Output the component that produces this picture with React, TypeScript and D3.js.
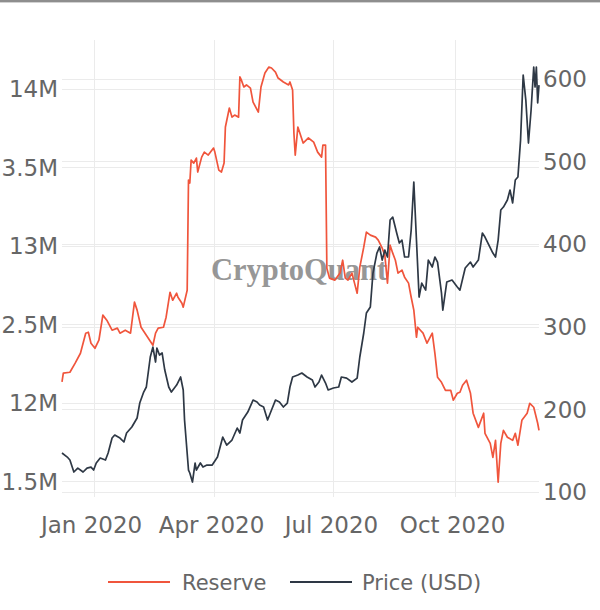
import React from "react";
import * as d3 from "d3";

// ---------- data ----------
const reserveDates = [
  "2019-12-08","2019-12-09","2019-12-14","2019-12-18","2019-12-22","2019-12-26","2019-12-28","2019-12-30","2020-01-02","2020-01-05",
  "2020-01-08","2020-01-11","2020-01-15","2020-01-19","2020-01-21","2020-01-25","2020-01-29","2020-02-01","2020-02-03","2020-02-06",
  "2020-02-10","2020-02-15","2020-02-17","2020-02-19","2020-02-23","2020-02-25","2020-02-28","2020-03-01","2020-03-04","2020-03-05",
  "2020-03-08","2020-03-09","2020-03-12","2020-03-13","2020-03-14","2020-03-15","2020-03-17","2020-03-19","2020-03-20","2020-03-23",
  "2020-03-25","2020-03-28","2020-04-01","2020-04-02","2020-04-05","2020-04-07","2020-04-09","2020-04-10","2020-04-13","2020-04-15",
  "2020-04-17","2020-04-20","2020-04-21","2020-04-22","2020-04-24","2020-04-26","2020-04-29","2020-05-01","2020-05-05","2020-05-07",
  "2020-05-10","2020-05-13","2020-05-15","2020-05-18","2020-05-20","2020-05-24","2020-05-28","2020-05-29","2020-05-31","2020-06-01",
  "2020-06-02","2020-06-04","2020-06-08","2020-06-12","2020-06-16","2020-06-19","2020-06-22","2020-06-23","2020-06-25","2020-06-26",
  "2020-06-28","2020-07-02","2020-07-06","2020-07-08","2020-07-10","2020-07-12","2020-07-15","2020-07-17","2020-07-19","2020-07-21",
  "2020-07-24","2020-07-26","2020-07-29","2020-08-02","2020-08-04","2020-08-07","2020-08-09","2020-08-11","2020-08-13","2020-08-15",
  "2020-08-17","2020-08-19","2020-08-22","2020-08-24","2020-08-27","2020-08-29","2020-08-31","2020-09-02","2020-09-03","2020-09-05",
  "2020-09-07","2020-09-10","2020-09-14","2020-09-16","2020-09-18","2020-09-21","2020-09-24","2020-09-28","2020-09-30","2020-10-03",
  "2020-10-05","2020-10-07","2020-10-10","2020-10-13","2020-10-15","2020-10-19","2020-10-23","2020-10-24","2020-10-28","2020-10-30",
  "2020-11-01","2020-11-03","2020-11-05","2020-11-07","2020-11-10","2020-11-14","2020-11-16","2020-11-18","2020-11-21","2020-11-25",
  "2020-11-27","2020-11-30","2020-12-03","2020-12-04",
];

// Reserve, in millions
const reserveValues = [
  12.133,12.189,12.195,12.253,12.316,12.444,12.450,12.380,12.348,12.399,
  12.559,12.527,12.463,12.476,12.444,12.463,12.444,12.642,12.591,12.482,
  12.431,12.367,12.444,12.476,12.482,12.546,12.705,12.654,12.699,12.673,
  12.635,12.610,12.718,13.420,13.401,13.547,13.528,13.560,13.471,13.566,
  13.598,13.579,13.624,13.598,13.483,13.471,13.528,13.758,13.879,13.821,
  13.834,13.821,14.077,14.060,14.013,14.026,14.006,13.917,13.853,14.013,
  14.102,14.140,14.134,14.108,14.070,14.045,14.026,14.045,13.994,13.719,
  13.579,13.758,13.656,13.688,13.662,13.598,13.566,13.643,13.643,12.858,
  12.795,12.782,12.827,12.909,12.795,12.782,12.827,12.763,12.699,12.865,
  12.992,13.088,13.069,13.056,13.037,12.986,12.941,12.763,13.005,12.954,
  12.909,12.827,12.846,12.801,12.763,12.673,12.591,12.418,12.482,12.463,
  12.444,12.380,12.444,12.316,12.163,12.131,12.080,12.080,12.017,12.061,
  12.068,12.112,12.144,12.061,11.934,11.844,11.934,11.806,11.742,11.653,
  11.761,11.494,11.742,11.825,11.781,11.761,11.806,11.730,11.889,11.934,
  11.997,11.972,11.870,11.825,
];

const priceDates = [
  "2019-12-08","2019-12-12","2019-12-14","2019-12-17","2019-12-20","2019-12-24","2019-12-27","2019-12-30","2020-01-01","2020-01-03",
  "2020-01-06","2020-01-10","2020-01-12","2020-01-15","2020-01-17","2020-01-21","2020-01-24","2020-01-26","2020-01-30","2020-02-03",
  "2020-02-05","2020-02-08","2020-02-10","2020-02-13","2020-02-15","2020-02-17","2020-02-18","2020-02-20","2020-02-22","2020-02-24",
  "2020-02-27","2020-02-29","2020-03-04","2020-03-07","2020-03-09","2020-03-10","2020-03-13","2020-03-14","2020-03-16","2020-03-18",
  "2020-03-19","2020-03-22","2020-03-24","2020-03-27","2020-03-31","2020-04-04","2020-04-08","2020-04-11","2020-04-15","2020-04-19",
  "2020-04-21","2020-04-23","2020-04-27","2020-05-01","2020-05-04","2020-05-06","2020-05-09","2020-05-12","2020-05-15","2020-05-18",
  "2020-05-21","2020-05-24","2020-05-27","2020-05-29","2020-05-31","2020-06-04","2020-06-07","2020-06-11","2020-06-15","2020-06-17",
  "2020-06-20","2020-06-22","2020-06-25","2020-06-27","2020-07-01","2020-07-05","2020-07-07","2020-07-11","2020-07-15","2020-07-19",
  "2020-07-21","2020-07-24","2020-07-26","2020-07-29","2020-07-31","2020-08-03","2020-08-05","2020-08-07","2020-08-09","2020-08-11",
  "2020-08-13","2020-08-15","2020-08-18","2020-08-20","2020-08-22","2020-08-24","2020-08-27","2020-08-29","2020-08-31","2020-09-02",
  "2020-09-04","2020-09-06","2020-09-09","2020-09-11","2020-09-14","2020-09-16","2020-09-18","2020-09-21","2020-09-22","2020-09-25",
  "2020-09-29","2020-10-03","2020-10-05","2020-10-09","2020-10-13","2020-10-15","2020-10-19","2020-10-22","2020-10-24","2020-10-27",
  "2020-10-30","2020-11-01","2020-11-03","2020-11-05","2020-11-07","2020-11-10","2020-11-12","2020-11-14","2020-11-16","2020-11-18",
  "2020-11-20","2020-11-22","2020-11-24","2020-11-26","2020-11-28","2020-11-30","2020-12-01","2020-12-02","2020-12-03","2020-12-04",
];

const priceValues = [
  147.2,142.3,138.7,124.2,129.0,124.2,129.0,130.2,126.6,135.1,
  141.1,138.7,147.2,165.3,168.9,165.3,160.5,171.4,178.6,189.5,
  207.6,220.9,227.0,263.3,275.3,257.2,274.1,265.7,268.1,247.5,
  227.0,220.9,229.4,239.1,223.4,187.1,126.6,123.0,112.1,135.1,
  126.6,135.1,130.2,132.6,132.6,142.3,166.5,156.8,162.9,177.4,
  171.4,187.1,196.7,211.2,208.8,205.2,202.8,187.1,199.2,211.2,
  208.8,202.8,207.6,227.0,239.1,241.5,243.9,239.1,235.4,227.0,
  233.0,241.5,231.8,223.4,225.8,227.0,239.1,237.8,233.0,237.8,
  263.3,292.3,316.5,323.7,364.8,389.0,396.3,380.5,392.6,384.2,
  428.9,432.5,413.2,401.1,404.7,384.2,384.2,416.8,474.9,404.7,
  335.8,352.7,344.2,380.5,372.1,384.2,378.1,340.6,320.0,353.9,
  356.3,347.9,344.2,370.9,378.1,372.1,380.5,413.2,408.3,398.7,
  389.0,384.2,404.7,441.0,444.6,453.1,465.2,449.5,477.3,480.9,
  525.6,604.2,574.0,522.0,561.9,613.9,589.7,613.9,570.4,592.1,
];

const reserveTicks = [11.5, 12, 12.5, 13, 13.5, 14];
const priceTicks = [100, 200, 300, 400, 500, 600];
const dateTicks = ["2020-01-01", "2020-04-01", "2020-07-01", "2020-10-01"];
const dateTickLabels = ["Jan 2020", "Apr 2020", "Jul 2020", "Oct 2020"];
const reserveRange = [11.4, 14.3125];
const priceRange = [94, 646.6];
const seriesNames = ["Reserve", "Price (USD)"];

// ---------- layout ----------
const W = 600;
const H = 610;
const plot = { left: 62, right: 539, top: 40, bottom: 497 };
const RED = "#f0553c";
const DARK = "#2e3845";
const FONT = "'DejaVu Sans', Verdana, sans-serif";
const TICK_COLOR = "#666666";

type Pt = { d: Date; v: number };

export default function App() {
  const reserve: Pt[] = reserveDates.map((s, i) => ({ d: new Date(s), v: reserveValues[i] }));
  const price: Pt[] = priceDates.map((s, i) => ({ d: new Date(s), v: priceValues[i] }));

  const allDates = [...reserve, ...price].map((p) => p.d);
  const x = d3
    .scaleUtc()
    .domain(d3.extent(allDates) as [Date, Date])
    .range([plot.left, plot.right]);
  const yL = d3.scaleLinear().domain(reserveRange).range([plot.bottom, plot.top]);
  const yR = d3.scaleLinear().domain(priceRange).range([plot.bottom, plot.top]);

  const lineL = d3
    .line<Pt>()
    .x((p) => x(p.d))
    .y((p) => yL(p.v));
  const lineR = d3
    .line<Pt>()
    .x((p) => x(p.d))
    .y((p) => yR(p.v));

  const fmtM = (v: number) => `${d3.format("~g")(v)}M`;

  return (
    <svg
      width={W}
      height={H}
      style={{ position: "absolute", left: 0, top: 0, background: "#fff" }}
      fontFamily={FONT}
    >
      <rect x={0} y={0} width={W} height={H} fill="#fff" />
      {/* top frame line */}
      <rect x={0} y={0} width={W} height={2} fill="#8e8e8e" />
      <rect x={0} y={2} width={W} height={1} fill="#d2d2d2" />

      {/* gridlines */}
      <g stroke="#ebebeb" strokeWidth={1}>
        {dateTicks.map((t) => {
          const xx = Math.round(x(new Date(t))) + 0.5;
          return <line key={t} x1={xx} x2={xx} y1={plot.top} y2={plot.bottom} />;
        })}
        {reserveTicks.map((t) => {
          const yy = Math.round(yL(t)) + 0.5;
          return <line key={"l" + t} x1={plot.left} x2={plot.right} y1={yy} y2={yy} />;
        })}
        {priceTicks.map((t) => {
          const yy = Math.round(yR(t)) + 0.5;
          return <line key={"r" + t} x1={plot.left} x2={plot.right} y1={yy} y2={yy} />;
        })}
      </g>

      {/* watermark */}
      <text
        x={299}
        y={280}
        textAnchor="middle"
        fontFamily="'Liberation Serif', 'DejaVu Serif', serif"
        fontWeight="bold"
        fontSize={30.5}
        fill="#858585"
        opacity={0.85}
      >
        CryptoQuant
      </text>

      {/* series */}
      <path d={lineL(reserve) || ""} fill="none" stroke={RED} strokeWidth={1.7} strokeLinejoin="round" />
      <path d={lineR(price) || ""} fill="none" stroke={DARK} strokeWidth={1.7} strokeLinejoin="round" />

      {/* left axis labels */}
      <g fontSize={23} fill={TICK_COLOR} textAnchor="end">
        {reserveTicks.map((t) => (
          <text key={t} x={58} y={yL(t)} dy="0.36em">
            {fmtM(t)}
          </text>
        ))}
      </g>
      {/* right axis labels */}
      <g fontSize={23} fill={TICK_COLOR} textAnchor="start">
        {priceTicks.map((t) => (
          <text key={t} x={543} y={yR(t)} dy="0.36em">
            {t}
          </text>
        ))}
      </g>
      {/* x axis labels */}
      <g fontSize={23} fill={TICK_COLOR} textAnchor="middle">
        {dateTicks.map((t, i) => (
          <text key={t} x={x(new Date(t)) - 2} y={533}>
            {dateTickLabels[i]}
          </text>
        ))}
      </g>

      {/* legend */}
      <g fontSize={21} fill={TICK_COLOR}>
        <line x1={108} x2={170} y1={582} y2={582} stroke={RED} strokeWidth={2} />
        <text x={182} y={582} dy="0.36em">
          {seriesNames[0]}
        </text>
        <line x1={290} x2={352} y1={582} y2={582} stroke={DARK} strokeWidth={2} />
        <text x={362} y={582} dy="0.36em">
          {seriesNames[1]}
        </text>
      </g>
    </svg>
  );
}
